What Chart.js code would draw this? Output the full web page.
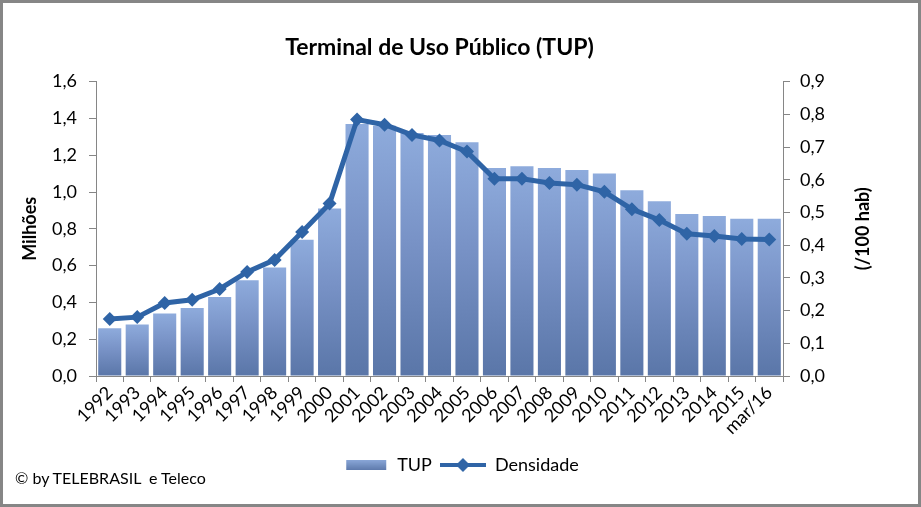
<!DOCTYPE html>
<html>
<head>
<meta charset="utf-8">
<script src="https://cdn.jsdelivr.net/npm/chart.js@4/dist/chart.umd.min.js"></script>
<style>
  html, body { margin: 0; padding: 0; background: #fff; }
  #frame {
    position: relative;
    width: 921px; height: 507px;
    box-sizing: border-box;
    border: 3px solid #868686;
    background: #fff;
  }
  #chart { display: block; }
  #credit {
    position: absolute; left: 12px; top: 465px;
    font: 16px Lato, "Noto Sans", sans-serif; color: #000;
  }
</style>
</head>
<body>
<div id="frame">
  <canvas id="chart" width="915" height="501"></canvas>
  <div id="credit">© by TELEBRASIL &nbsp;e Teleco</div>
</div>
<script>
const years = ['1992', '1993', '1994', '1995', '1996', '1997', '1998', '1999', '2000', '2001',
    '2002', '2003', '2004', '2005', '2006', '2007', '2008', '2009', '2010', '2011',
    '2012', '2013', '2014', '2015', 'mar/16'];

// TUP em milhões
const tup = [0.26, 0.28, 0.34, 0.37, 0.43, 0.52, 0.59, 0.74, 0.91, 1.37,
    1.36, 1.32, 1.31, 1.27, 1.13, 1.14, 1.13, 1.12, 1.10, 1.01,
    0.95, 0.88, 0.87, 0.855, 0.855];

// densidade por 100 habitantes
const densidade = [0.174, 0.18, 0.223, 0.233, 0.266, 0.318, 0.355, 0.44, 0.527, 0.784,
    0.768, 0.737, 0.72, 0.686, 0.603, 0.603, 0.59, 0.585, 0.563, 0.51,
    0.477, 0.435, 0.428, 0.419, 0.417];

const FONT = 'Lato, "Noto Sans", sans-serif';
const lineColor = '#2f64a6';
const axisColor = '#868686';

function barFill(ctx) {
    const chart = ctx.chart;
    const area = chart.chartArea;
    if (!area || ctx.dataIndex === undefined) return '#7a96c8';
    const y = chart.scales.y;
    const top = y.getPixelForValue(tup[ctx.dataIndex]);
    const g = chart.ctx.createLinearGradient(0, top, 0, area.bottom);
    g.addColorStop(0, '#8eabdc');
    g.addColorStop(0.45, '#7892c6');
    g.addColorStop(1, '#5a76a8');
    return g;
}

function legendSwatch(kind) {
    const c = document.createElement('canvas');
    c.width = 46; c.height = 16;
    const x = c.getContext('2d');
    if (kind === 'bar') {
        const g = x.createLinearGradient(0, 2, 0, 14);
        g.addColorStop(0, '#8eabdc');
        g.addColorStop(1, '#5a76a8');
        x.fillStyle = g;
        x.fillRect(4, 3, 40, 10);
    } else {
        x.strokeStyle = lineColor;
        x.lineWidth = 4;
        x.beginPath(); x.moveTo(0, 8); x.lineTo(46, 8); x.stroke();
        x.fillStyle = lineColor;
        x.beginPath(); x.moveTo(23, 1); x.lineTo(30, 8); x.lineTo(23, 15); x.lineTo(16, 8); x.closePath(); x.fill();
    }
    return c;
}
const swatches = [legendSwatch('bar'), legendSwatch('line')];

// right axis title reads bottom-to-top like in the original
const rightTitle = {
    id: 'rightTitle',
    afterDraw(chart) {
        const c = chart.ctx;
        const area = chart.chartArea;
        c.save();
        c.translate(area.right + 80, (area.top + area.bottom) / 2);
        c.rotate(-Math.PI / 2);
        c.font = 'bold 18px ' + FONT;
        c.fillStyle = '#000';
        c.textAlign = 'center';
        c.textBaseline = 'middle';
        c.fillText('(/100 hab)', 0, 0);
        c.restore();
    }
};

const ctx = document.getElementById('chart').getContext('2d');

new Chart(ctx, {
    data: {
        labels: years,
        datasets: [
            {
                type: 'line',
                label: 'Densidade',
                data: densidade,
                yAxisID: 'y1',
                borderColor: lineColor,
                backgroundColor: lineColor,
                borderWidth: 5,
                pointStyle: 'rectRot',
                pointRadius: 7,
                pointBorderWidth: 0,
                tension: 0,
                order: 0,
            },
            {
                type: 'bar',
                label: 'TUP',
                data: tup,
                yAxisID: 'y',
                backgroundColor: barFill,
                categoryPercentage: 1,
                barPercentage: 0.84,
                order: 1,
            },
        ]
    },
    plugins: [rightTitle],
    options: {
        responsive: false,
        animation: false,
        layout: { padding: { left: 0, right: 0, top: 0, bottom: 20 } },
        plugins: {
            title: {
                display: true,
                fullSize: false,
                text: 'Terminal de Uso Público (TUP)',
                color: '#000',
                font: { family: FONT, size: 23, weight: 'bold' },
                padding: { top: 31, bottom: 20 },
            },
            legend: {
                position: 'bottom',
                labels: {
                    usePointStyle: true,
                    pointStyleWidth: 46,
                    color: '#000',
                    font: { family: FONT, size: 18 },
                    padding: 8,
                    generateLabels: (chart) => [
                        { text: 'TUP', pointStyle: swatches[0], datasetIndex: 1, fontColor: '#000', lineWidth: 0, strokeStyle: 'transparent', fillStyle: 'transparent' },
                        { text: 'Densidade', pointStyle: swatches[1], datasetIndex: 0, fontColor: '#000', lineWidth: 0, strokeStyle: 'transparent', fillStyle: 'transparent' },
                    ],
                },
            },
            tooltip: { enabled: false },
        },
        scales: {
            x: {
                offset: true,
                grid: { display: true, drawOnChartArea: false, offset: true, color: axisColor, tickLength: 6 },
                border: { color: axisColor },
                ticks: {
                    color: '#000',
                    font: { family: FONT, size: 18 },
                    maxRotation: 45, minRotation: 45,
                    autoSkip: false,
                    padding: 0,
                },
                afterFit: (s) => { s.height = 72; },
            },
            y: {
                position: 'left',
                min: 0, max: 1.6,
                ticks: {
                    stepSize: 0.2,
                    color: '#000',
                    font: { family: FONT, size: 18 },
                    padding: 12,
                    callback: (v) => v.toFixed(1).replace('.', ','),
                },
                grid: { drawOnChartArea: false, color: axisColor, tickLength: 7 },
                border: { color: axisColor },
                title: {
                    display: true,
                    text: 'Milhões',
                    color: '#000',
                    font: { family: FONT, size: 18, weight: 'bold' },
                    padding: { top: 16, bottom: 0 },
                },
                afterFit: (s) => { s.width = 93; },
            },
            y1: {
                position: 'right',
                min: 0, max: 0.9,
                ticks: {
                    stepSize: 0.1,
                    color: '#000',
                    font: { family: FONT, size: 18 },
                    padding: 10,
                    callback: (v) => v.toFixed(1).replace('.', ','),
                },
                grid: { drawOnChartArea: false, color: axisColor, tickLength: 7 },
                border: { color: axisColor },
                afterFit: (s) => { s.width = 135; },
            },
        },
    },
});
</script>
</body>
</html>
